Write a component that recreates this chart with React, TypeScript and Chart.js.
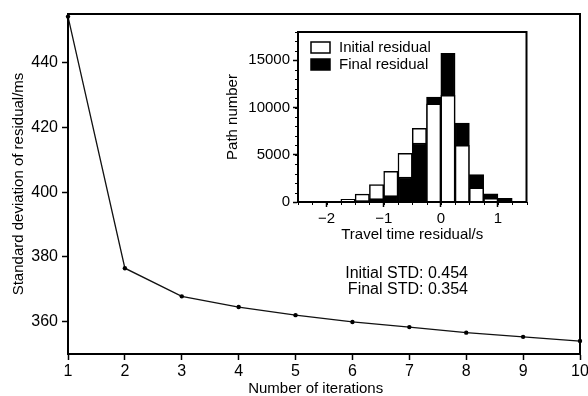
import React, { useEffect, useRef } from 'react';
import { Chart, registerables } from 'chart.js';

Chart.register(...registerables);

// ---- Main chart data ----
const iterations = [1, 2, 3, 4, 5, 6, 7, 8, 9, 10];
const stdResidualMs = [454.2, 376.5, 367.8, 364.5, 362.0, 359.9, 358.3, 356.6, 355.3, 354.0];
const mainYTicks = [360, 380, 400, 420, 440];
const mainXTicks = [1, 2, 3, 4, 5, 6, 7, 8, 9, 10];
const mainXTitle = 'Number of iterations';
const mainYTitle = 'Standard deviation of residual/ms';
const stdLines = ['Initial STD: 0.454', 'Final STD: 0.354'];
const stdAnchorX = 8.03;
const stdAnchorY = [374.7, 369.8];

// ---- Inset histogram data ----
const binCenters = [-2.125, -1.875, -1.625, -1.375, -1.125, -0.875, -0.625, -0.375, -0.125, 0.125, 0.375, 0.625, 0.875, 1.125, 1.375];
const initialCounts = [20, 50, 280, 830, 1850, 3250, 5150, 7800, 10400, 11300, 6000, 1500, 380, 80, 10];
const finalCounts = [10, 20, 60, 150, 350, 680, 2650, 6250, 11100, 15750, 8350, 2900, 860, 380, 40];
const insetXTicks = [-2, -1, 0, 1];
const insetYTicks = [0, 5000, 10000, 15000];
const insetXTitle = 'Travel time residual/s';
const insetYTitle = 'Path number';
const legendLabels = ['Initial residual', 'Final residual'];

const FONT = "'Liberation Sans', Arial, Helvetica, sans-serif";

const framePlugin = {
  id: 'frame',
  afterDraw(chart: any) {
    const { ctx, chartArea } = chart;
    const { left, top, right, bottom } = chartArea;
    ctx.save();
    ctx.strokeStyle = '#000';
    ctx.lineWidth = 2;
    ctx.strokeRect(left, top, right - left, bottom - top);
    ctx.restore();
  },
};

const minorTicksPlugin = {
  id: 'minorTicks',
  afterDraw(chart: any, _args: any, opts: any) {
    if (!opts || !opts.enabled) return;
    const { ctx } = chart;
    const xs = chart.scales.x;
    const ys = chart.scales.y;
    ctx.save();
    ctx.strokeStyle = '#000';
    ctx.lineWidth = 1;
    if (opts.xStep) {
      const start = Math.ceil(xs.min / opts.xStep - 1e-9);
      const end = Math.floor(xs.max / opts.xStep + 1e-9);
      for (let k = start; k <= end; k++) {
        const p = Math.round(xs.getPixelForValue(k * opts.xStep)) + 0.5;
        ctx.beginPath();
        ctx.moveTo(p, xs.top);
        ctx.lineTo(p, xs.top + opts.len);
        ctx.stroke();
      }
    }
    if (opts.yStep) {
      const start = Math.ceil(ys.min / opts.yStep - 1e-9);
      const end = Math.floor(ys.max / opts.yStep + 1e-9);
      for (let k = start; k <= end; k++) {
        const p = Math.round(ys.getPixelForValue(k * opts.yStep)) + 0.5;
        ctx.beginPath();
        ctx.moveTo(ys.right, p);
        ctx.lineTo(ys.right - opts.len, p);
        ctx.stroke();
      }
    }
    ctx.restore();
  },
};

const insetLegendPlugin = {
  id: 'insetLegend',
  afterDraw(chart: any, _args: any, opts: any) {
    if (!opts || !opts.enabled) return;
    const { ctx, chartArea } = chart;
    const fills = ['#fff', '#000'];
    ctx.save();
    ctx.font = `15px ${FONT}`;
    ctx.textBaseline = 'middle';
    ctx.textAlign = 'left';
    legendLabels.forEach((label, i) => {
      const bx = chartArea.left + 13;
      const by = chartArea.top + 10 + i * 17;
      ctx.fillStyle = fills[i];
      ctx.fillRect(bx, by, 19, 11);
      ctx.strokeStyle = '#000';
      ctx.lineWidth = 1.5;
      ctx.strokeRect(bx, by, 19, 11);
      ctx.fillStyle = '#000';
      ctx.fillText(label, bx + 28, by + 6);
    });
    ctx.restore();
  },
};

const stdTextPlugin = {
  id: 'stdText',
  afterDraw(chart: any, _args: any, opts: any) {
    if (!opts || !opts.enabled) return;
    const { ctx } = chart;
    const xs = chart.scales.x;
    const ys = chart.scales.y;
    ctx.save();
    ctx.font = `16px ${FONT}`;
    ctx.fillStyle = '#000';
    ctx.textAlign = 'right';
    ctx.textBaseline = 'middle';
    stdLines.forEach((line, i) => {
      ctx.fillText(line, xs.getPixelForValue(stdAnchorX), ys.getPixelForValue(stdAnchorY[i]));
    });
    ctx.restore();
  },
};

export default function App() {
  const mainRef = useRef<HTMLCanvasElement>(null);
  const insetRef = useRef<HTMLCanvasElement>(null);

  useEffect(() => {
    document.body.style.margin = '0';
    const mainChart = new Chart(mainRef.current!, {
      type: 'line',
      data: {
        datasets: [
          {
            data: iterations.map((x, i) => ({ x, y: stdResidualMs[i] })),
            borderColor: '#111',
            borderWidth: 1.3,
            pointRadius: 2.2,
            pointBackgroundColor: '#000',
            pointBorderColor: '#000',
            pointBorderWidth: 0,
            tension: 0,
            clip: false as any,
          },
        ],
      },
      options: {
        animation: false,
        responsive: false,
        devicePixelRatio: 1,
        layout: { padding: { top: 14, right: 8, left: 0, bottom: 0 } },
        plugins: {
          legend: { display: false },
          tooltip: { enabled: false },
          stdText: { enabled: true },
        } as any,
        scales: {
          x: {
            type: 'linear',
            min: 1,
            max: 10,
            afterBuildTicks: (s: any) => { s.ticks = mainXTicks.map((v) => ({ value: v })); },
            afterFit: (s: any) => { s.height = 42; s.paddingLeft = 0; s.paddingRight = 0; },
            grid: { drawOnChartArea: false, drawTicks: true, tickLength: 6, tickColor: '#000', tickWidth: 1.5 },
            border: { display: true, color: '#000', width: 2 },
            ticks: { color: '#000', font: { family: FONT, size: 16 }, padding: 2, maxRotation: 0, autoSkip: false },
            title: {
              display: true,
              text: mainXTitle + '\u00a0\u00a0\u00a0\u00a0',
              color: '#000',
              font: { family: FONT, size: 15 },
              padding: { top: 0, bottom: -2 },
            },
          },
          y: {
            type: 'linear',
            min: 350,
            max: 455,
            afterBuildTicks: (s: any) => { s.ticks = mainYTicks.map((v) => ({ value: v })); },
            afterFit: (s: any) => { s.width = 68; },
            grid: { drawOnChartArea: false, drawTicks: true, tickLength: 6, tickColor: '#000', tickWidth: 1.5 },
            border: { display: true, color: '#000', width: 2 },
            ticks: { color: '#000', font: { family: FONT, size: 16 }, padding: 4 },
            title: { display: true, text: mainYTitle, color: '#000', font: { family: FONT, size: 15 }, padding: { top: 10, bottom: 0 } },
          },
        },
      },
      plugins: [framePlugin, stdTextPlugin],
    });

    const isFinalBigger = binCenters.map((_, i) => finalCounts[i] > initialCounts[i]);
    const insetChart = new Chart(insetRef.current!, {
      type: 'bar',
      data: {
        datasets: [
          {
            label: 'back',
            order: 2,
            data: binCenters.map((x, i) => ({ x, y: Math.max(initialCounts[i], finalCounts[i]) })),
            backgroundColor: isFinalBigger.map((b) => (b ? '#000' : '#fff')),
            borderColor: '#000',
            borderWidth: 1.5,
            grouped: false,
            barPercentage: 1,
            categoryPercentage: 1,
          },
          {
            label: 'front',
            order: 1,
            data: binCenters.map((x, i) => ({ x, y: Math.min(initialCounts[i], finalCounts[i]) })),
            backgroundColor: isFinalBigger.map((b) => (b ? '#fff' : '#000')),
            borderColor: '#000',
            borderWidth: 1.5,
            grouped: false,
            barPercentage: 1,
            categoryPercentage: 1,
          },
        ],
      },
      options: {
        animation: false,
        responsive: false,
        devicePixelRatio: 1,
        layout: { padding: { top: 11, right: 13.5, left: 0, bottom: 0 } },
        plugins: {
          legend: { display: false },
          tooltip: { enabled: false },
          minorTicks: { enabled: true, xStep: 0.25, yStep: 1000, len: 3 },
          insetLegend: { enabled: true },
        } as any,
        scales: {
          x: {
            type: 'linear',
            min: -2.5,
            max: 1.5,
            offset: false,
            afterBuildTicks: (s: any) => { s.ticks = insetXTicks.map((v) => ({ value: v })); },
            afterFit: (s: any) => { s.height = 48; },
            grid: { offset: false, drawOnChartArea: false, drawTicks: true, tickLength: 5, tickColor: '#000', tickWidth: 1.5 },
            border: { display: true, color: '#000', width: 2 },
            ticks: {
              color: '#000',
              font: { family: FONT, size: 15 },
              padding: 3,
              maxRotation: 0,
              autoSkip: false,
              callback: (v: any) => (Number(v) < 0 ? '\u2212' + Math.abs(Number(v)) : String(v)),
            },
            title: { display: true, text: insetXTitle, color: '#000', font: { family: FONT, size: 15 }, padding: { top: 0, bottom: 6 } },
          },
          y: {
            type: 'linear',
            min: 0,
            max: 18000,
            afterBuildTicks: (s: any) => { s.ticks = insetYTicks.map((v) => ({ value: v })); },
            afterFit: (s: any) => { s.width = 88; },
            grid: { drawOnChartArea: false, drawTicks: true, tickLength: 5, tickColor: '#000', tickWidth: 1.5 },
            border: { display: true, color: '#000', width: 2 },
            ticks: { color: '#000', font: { family: FONT, size: 15 }, padding: 3, callback: (v: any) => String(v) },
            title: { display: true, text: insetYTitle, color: '#000', font: { family: FONT, size: 15 }, padding: { top: 14, bottom: 0 } },
          },
        },
      },
      plugins: [framePlugin, minorTicksPlugin, insetLegendPlugin],
    });

    return () => {
      mainChart.destroy();
      insetChart.destroy();
    };
  }, []);

  return (
    <div style={{ position: 'relative', width: 588, height: 396, background: '#fff' }}>
      <canvas ref={mainRef} width={588} height={396} style={{ position: 'absolute', left: 0, top: 0, width: 588, height: 396 }} />
      <canvas ref={insetRef} width={330} height={230} style={{ position: 'absolute', left: 210, top: 20, width: 330, height: 230 }} />
    </div>
  );
}
